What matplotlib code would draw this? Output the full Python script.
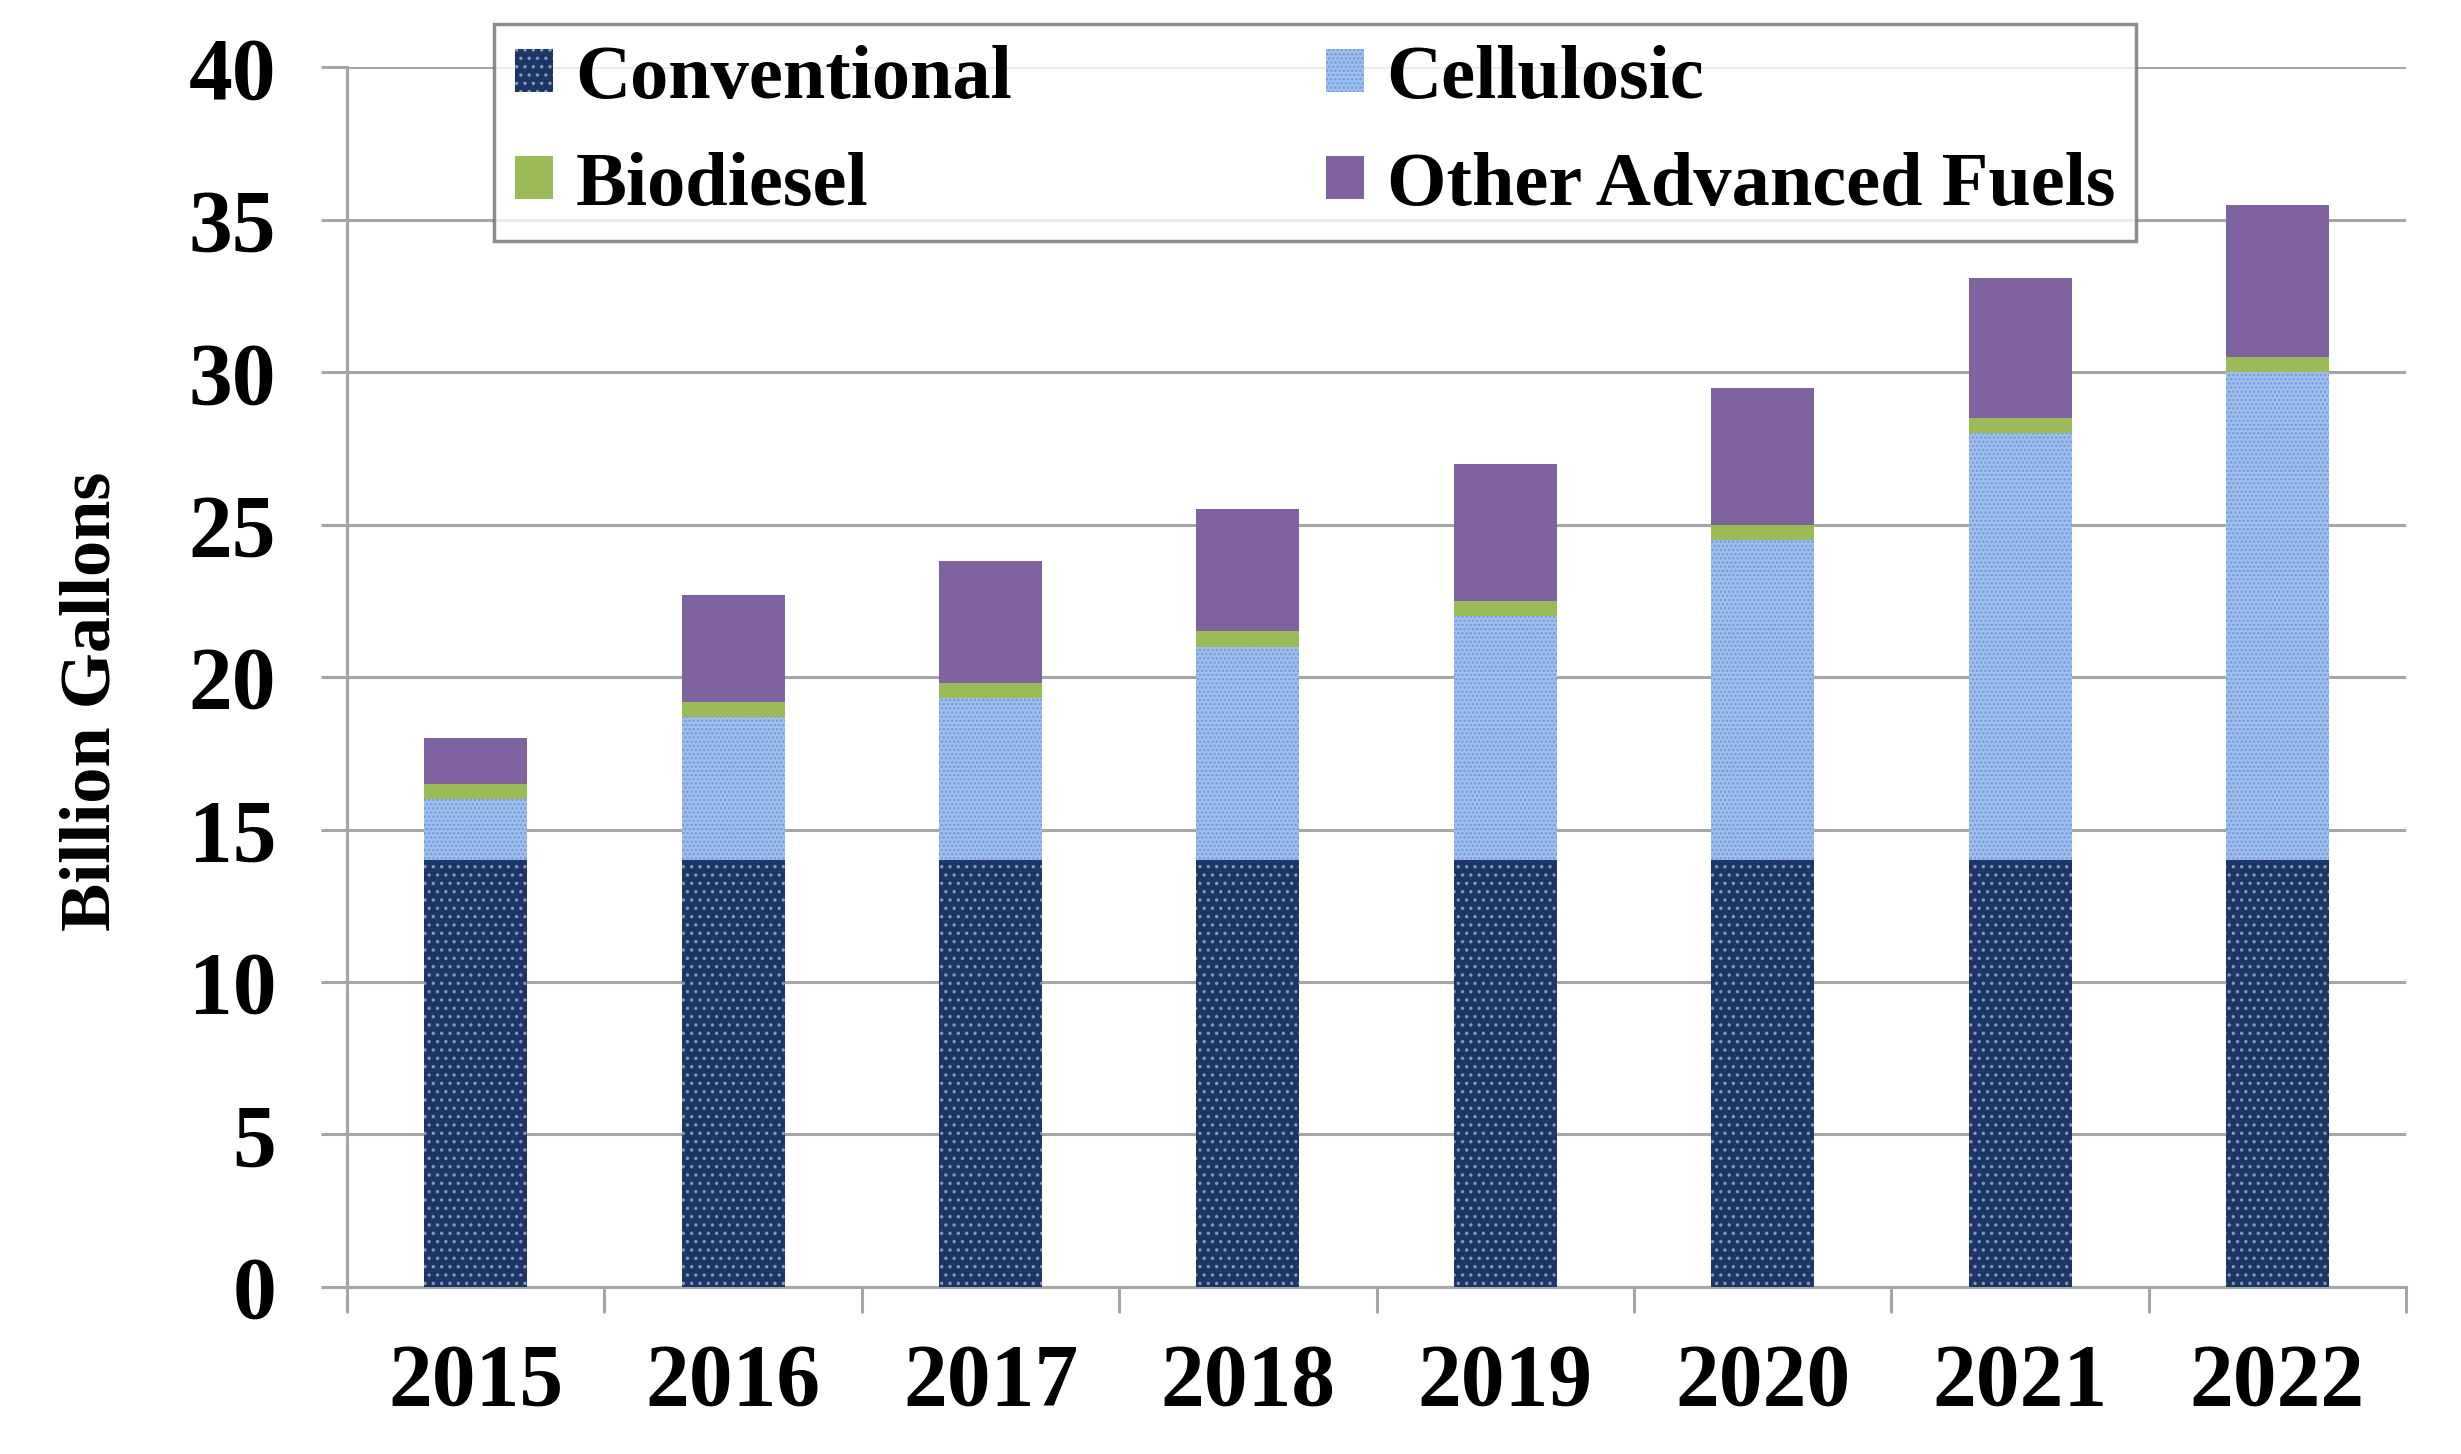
import numpy as np
import matplotlib
matplotlib.use("Agg")
from matplotlib import pyplot as plt
from matplotlib.ticker import FixedLocator

plt.rcParams['font.family'] = ['Liberation Serif', 'DejaVu Serif']
plt.rcParams['font.weight'] = 'bold'
plt.rcParams['hatch.linewidth'] = 1.2

years = ['2015', '2016', '2017', '2018', '2019', '2020', '2021', '2022']
conventional = [14.0, 14.0, 14.0, 14.0, 14.0, 14.0, 14.0, 14.0]
cellulosic = [2.0, 4.7, 5.3, 7.0, 8.0, 10.5, 14.0, 16.0]
biodiesel = [0.5, 0.5, 0.5, 0.5, 0.5, 0.5, 0.5, 0.5]
other = [1.5, 3.5, 4.0, 4.0, 4.5, 4.5, 4.6, 5.0]

fig = plt.figure(figsize=(24.61, 14.54), dpi=100)
ax = fig.add_axes([0.141, 0.115, 0.8367, 0.8386])

x = np.arange(len(years))
w = 0.4
grid_c = '#a6a6a6'

b1 = ax.bar(x, conventional, w, color='#1c3766', edgecolor='#8799bb', linewidth=0,
            hatch='..', label='Conventional', zorder=3)
bottom = np.array(conventional)
b2 = ax.bar(x, cellulosic, w, bottom=bottom, color='#a0bfec', edgecolor='#6f99db', linewidth=0,
            hatch='....', label='Cellulosic', zorder=3)
bottom = bottom + np.array(cellulosic)
b3 = ax.bar(x, biodiesel, w, bottom=bottom, color='#9bbb59', linewidth=0,
            label='Biodiesel', zorder=3)
bottom = bottom + np.array(biodiesel)
b4 = ax.bar(x, other, w, bottom=bottom, color='#7f62a0', linewidth=0,
            label='Other Advanced Fuels', zorder=3)

ax.set_xlim(-0.5, 7.5)
ax.set_ylim(0, 40)
ax.set_yticks(np.arange(0, 41, 5))
ax.yaxis.grid(True, color=grid_c, linewidth=2.2, zorder=0)
ax.set_axisbelow(True)

ax.set_xticks(x)
ax.set_xticklabels(years)
ax.xaxis.set_minor_locator(FixedLocator(np.arange(-0.5, 8, 1)))
ax.tick_params(axis='x', which='major', length=0, pad=40, labelsize=63)
ax.tick_params(axis='x', which='minor', length=19, width=2.2, color=grid_c, direction='out')
ax.tick_params(axis='y', which='major', length=19, width=2.2, color=grid_c, pad=32, labelsize=63)

for s in ['top', 'right']:
    ax.spines[s].set_visible(False)
for s in ['left', 'bottom']:
    ax.spines[s].set_color(grid_c)
    ax.spines[s].set_linewidth(2.2)

ax.set_ylabel('Billion Gallons', fontsize=52, fontweight='bold')
ax.yaxis.set_label_coords(-0.108, 0.48)

leg = fig.legend([b1, b3, b2, b4],
                 ['Conventional', 'Biodiesel', 'Cellulosic', 'Other Advanced Fuels'],
                 ncol=2, loc='upper left', bbox_to_anchor=(0.2007, 0.9835),
                 fontsize=55, frameon=True, fancybox=False, shadow=False,
                 handlelength=0.5, handleheight=0.5, handletextpad=0.3,
                 columnspacing=4.1, labelspacing=0.5, borderpad=0.27, borderaxespad=0)
leg.get_frame().set_edgecolor('#707070')
leg.get_frame().set_linewidth(2.5)

fig.savefig('out.png', dpi=100)
